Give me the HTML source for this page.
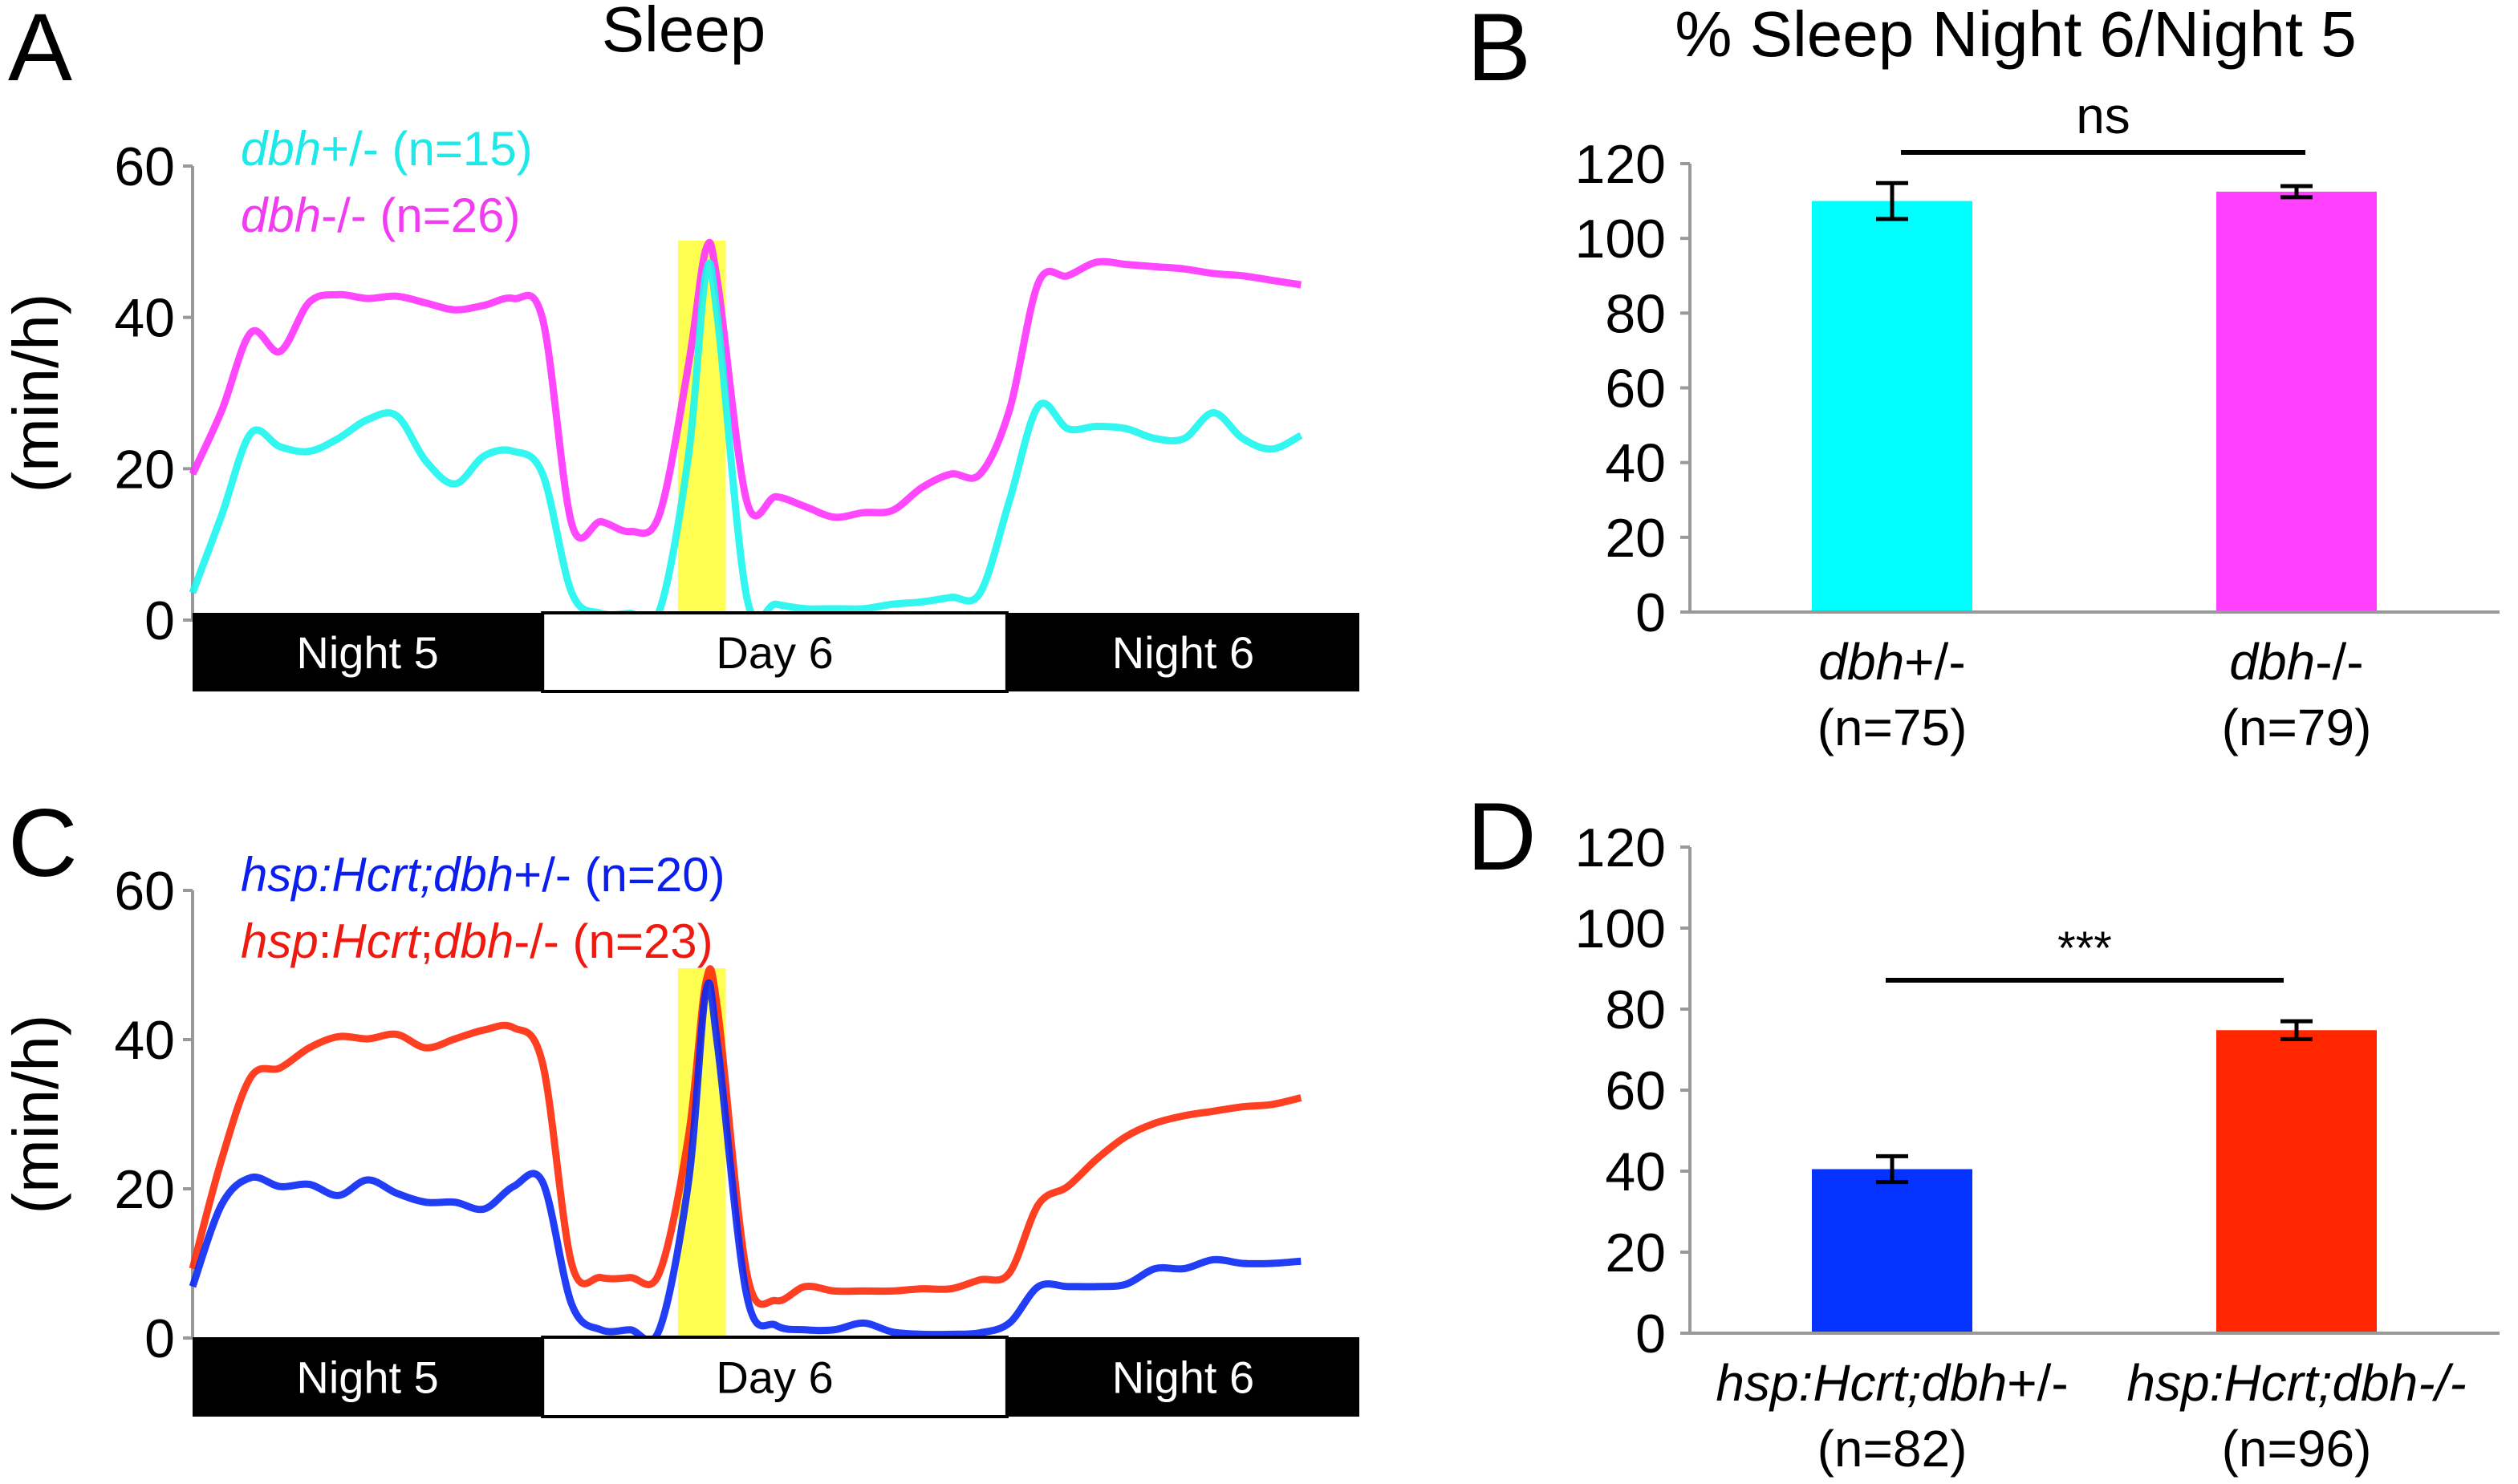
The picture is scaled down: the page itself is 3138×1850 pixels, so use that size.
<!DOCTYPE html>
<html><head><meta charset="utf-8"><style>
html,body{margin:0;padding:0;background:#fff;}
svg{display:block;font-family:"Liberation Sans Narrow","Liberation Sans",sans-serif;}
</style></head><body>
<svg id="fig" width="3138" height="1850" viewBox="0 0 3138 1850">
  <text x="10" y="100" font-size="120">A</text>
  <text x="1828" y="100" font-size="120">B</text>
  <text x="10" y="1092" font-size="120">C</text>
  <text x="1828" y="1084" font-size="120">D</text>
  <text x="852" y="64" font-size="80" text-anchor="middle">Sleep</text>
  <text x="2512" y="70" font-size="80" text-anchor="middle">% Sleep Night 6/Night 5</text>
  <g id="gA"></g>
  <g id="gC"></g>
  <g id="gB"></g>
  <g id="gD"></g>
</svg>
<script>
// ---- time-course data (time units 0..100 across light/dark bar) ----
const times = [0,2.5,5,7.5,10,12.5,15,17.5,20,22.5,25,27.5,30,32.5,35,37.5,40,42.5,44,45,47.5,50,52.5,55,57.5,60,62.5,65,67.5,70,72.5,75,77.5,80,82.5,85,87.5,90,92.5,95];
const dbhHet = [3.6,13.9,24.7,22.9,22.3,24,26.5,27,21,18,21.7,22.3,19.3,3.6,0.9,0.9,1.2,21.7,45.8,39.8,3,2.1,1.5,1.5,1.5,2.1,2.4,3,3.6,15.7,28.3,25.3,25.6,25.3,24,24,27.4,24,22.6,24.4];
const dbhMut = [19.3,27.7,38,35.5,42,43,42.5,42.8,41.9,41,41.6,42.5,39.8,12.7,13,11.7,13.9,33.7,49,44.6,15.7,16.3,15,13.6,14.2,14.5,17.5,19.3,19.3,27.7,44.6,45.5,47.3,47,46.7,46.4,45.8,45.5,44.9,44.3];
const hcrtHet = [6.9,17.9,21.5,20.3,20.6,19.1,21.2,19.4,18.2,18.2,17.3,20.3,20.9,4.5,1.1,1.1,1.1,20.9,46.5,39.2,5.7,1.7,1.1,1.1,2,0.8,0.5,0.5,0.7,2,6.9,6.9,6.9,7.2,9.3,9.3,10.5,10,10,10.3];
const hcrtMut = [9.3,24,35,36.2,38.9,40.4,40.1,40.7,38.9,40.1,41.3,41.6,36.8,9.9,8.1,8.1,8.7,27,47.7,44,8.7,5,6.9,6.3,6.3,6.3,6.6,6.6,7.8,8.7,17.9,20.3,24,27,28.8,29.8,30.4,31,31.3,32.2];
const lineTicks = [0,20,40,60];
// ---- bar data ----
const barTicks = [0,20,40,60,80,100,120];
const bValues = [110,112.5];
const bErrors = [4.8,1.5];
const dValues = [40.5,74.8];
const dErrors = [3.2,2.2];

const NS="http://www.w3.org/2000/svg";
function mk(parent,tag,attrs,text){const e=document.createElementNS(NS,tag);for(const k in attrs)e.setAttribute(k,attrs[k]);if(text!==undefined)e.textContent=text;parent.appendChild(e);return e;}
function smoothPath(pts){let d=`M${pts[0][0]},${pts[0][1]}`;for(let i=0;i<pts.length-1;i++){const p0=pts[Math.max(0,i-1)],p1=pts[i],p2=pts[i+1],p3=pts[Math.min(pts.length-1,i+2)];const c1=[p1[0]+(p2[0]-p0[0])/6,p1[1]+(p2[1]-p0[1])/6],c2=[p2[0]-(p3[0]-p1[0])/6,p2[1]-(p3[1]-p1[1])/6];d+=` C${c1[0]},${c1[1]} ${c2[0]},${c2[1]} ${p2[0]},${p2[1]}`;}return d;}

function lineChart(g,y0,y60,barTop,barBot,series,legends,legendY,hlTop){
  const x0=240,x1=1694;
  const X=t=>x0+(x1-x0)*t/100, Y=v=>y0-(y0-y60)*v/60;
  let ax=mk(g,'line',{x1:x0,y1:y60,x2:x0,y2:y0,stroke:'#999','stroke-width':4});
  
  lineTicks.forEach(v=>{
    let tk=mk(g,'line',{x1:x0-12,y1:Y(v),x2:x0,y2:Y(v),stroke:'#999','stroke-width':4});
    
    let tl=mk(g,'text',{x:x0-22,y:Y(v)+24,'font-size':68,'text-anchor':'end'},String(v));
    
  });
  let yt=mk(g,'text',{x:0,y:0,'font-size':80,'text-anchor':'middle',transform:`translate(72,${(y0+y60)/2}) rotate(-90)`},'(min/h)');
  
  let hl=mk(g,'rect',{x:X(41.6),y:hlTop,width:X(45.7)-X(41.6),height:barTop-hlTop,fill:'#ffff33','fill-opacity':0.85});
  
  series.forEach(s=>{
    const pts=times.map((t,i)=>[X(t),Y(s.v[i])]);
    let p=mk(g,'path',{d:smoothPath(pts),fill:'none',stroke:s.c,'stroke-width':9,'stroke-linejoin':'round','stroke-opacity':0.9});
    
  });
  const segs=[[0,30,'#000','#fff','Night 5'],[30,69.8,'#fff','#000','Day 6'],[69.8,100,'#000','#fff','Night 6']];
  segs.forEach((s,i)=>{
    let r=mk(g,'rect',{x:X(s[0]),y:barTop,width:X(s[1])-X(s[0]),height:barBot-barTop,fill:s[2],stroke:'#000','stroke-width':i==1?4:0});
    
    let t=mk(g,'text',{x:(X(s[0])+X(s[1]))/2,y:(barTop+barBot)/2+20,'font-size':56,'text-anchor':'middle',fill:s[3]},s[4]);
    
  });
  legends.forEach((L,i)=>{
    let t=mk(g,'text',{x:300,y:legendY+i*83,'font-size':60,fill:L.c});
    
    L.parts.forEach(p=>{mk(t,'tspan',p[1]?{'font-style':'italic'}:{},p[0]);});
  });
}

function barChart(g,y0,y120,vals,errs,colors,labels,sig,sigY){
  const ax0=2106,ax1=3115,centers=[2358,2862],bw=200;
  const Y=v=>y0-(y0-y120)*v/120;
  let ya=mk(g,'line',{x1:ax0,y1:y120,x2:ax0,y2:y0,stroke:'#999','stroke-width':4});
  
  let xa=mk(g,'line',{x1:ax0-12,y1:y0,x2:ax1,y2:y0,stroke:'#999','stroke-width':4});
  
  barTicks.forEach(v=>{
    let tk=mk(g,'line',{x1:ax0-12,y1:Y(v),x2:ax0,y2:Y(v),stroke:'#999','stroke-width':4});
    
    let tl=mk(g,'text',{x:ax0-30,y:Y(v)+24,'font-size':68,'text-anchor':'end'},String(v));
    
  });
  vals.forEach((v,i)=>{
    let r=mk(g,'rect',{x:centers[i]-bw/2,y:Y(v),width:bw,height:y0-Y(v)-2,fill:colors[i]});
    
    const e=errs[i];
    let eb=mk(g,'path',{d:`M${centers[i]},${Y(v+e)}V${Y(v-e)}M${centers[i]-20},${Y(v+e)}H${centers[i]+20}M${centers[i]-20},${Y(v-e)}H${centers[i]+20}`,stroke:'#000','stroke-width':5,fill:'none'});
    
    let l1=mk(g,'text',{x:centers[i],y:y0+84,'font-size':64,'text-anchor':'middle'});
    
    labels[i].forEach(p=>{mk(l1,'tspan',p[1]?{'font-style':'italic'}:{},p[0]);});
    let l2=mk(g,'text',{x:centers[i],y:y0+166,'font-size':64,'text-anchor':'middle'},i==0?labels.n[0]:labels.n[1]);
    
  });
  let sl=mk(g,'line',{x1:sig.x1,y1:sigY,x2:sig.x2,y2:sigY,stroke:'#000','stroke-width':6});
  
  let st=mk(g,'text',{x:(sig.x1+sig.x2)/2,y:sigY-sig.dy,'font-size':sig.fs,'text-anchor':'middle'},sig.text);
  
}

lineChart(document.getElementById('gA'),773,207,764,862,
  [{v:dbhMut,c:'#ff33ff',name:'line-dbh-mutant'},{v:dbhHet,c:'#1cf5ee',name:'line-dbh-het'}],
  [{c:'#1ee8e8',parts:[['dbh',1],['+/- (n=15)',0]]},{c:'#f23cf2',parts:[['dbh',1],['-/- (n=26)',0]]}],
  206,300);
lineChart(document.getElementById('gC'),1668,1110,1667,1766,
  [{v:hcrtMut,c:'#ff2a0a',name:'line-hcrt-dbh-mutant'},{v:hcrtHet,c:'#0a28f5',name:'line-hcrt-dbh-het'}],
  [{c:'#0a1ef0',parts:[['hsp:Hcrt;dbh',1],['+/- (n=20)',0]]},{c:'#ee1a10',parts:[['hsp',1],[':',0],['Hcrt',1],[';',0],['dbh',1],['-/- (n=23)',0]]}],
  1111,1207);
const labB=[[['dbh',1],['+/-',0]],[['dbh',1],['-/-',0]]];labB.n=['(n=75)','(n=79)'];
barChart(document.getElementById('gB'),763,204,bValues,bErrors,['#00ffff','#ff40ff'],labB,{x1:2369,x2:2873,text:'ns',dy:24,fs:64},190);
const labD=[[['hsp:Hcrt;dbh',1],['+/-',0]],[['hsp:Hcrt;dbh-/-',1]]];labD.n=['(n=82)','(n=96)'];
barChart(document.getElementById('gD'),1662,1056,dValues,dErrors,['#0433ff','#ff2600'],labD,{x1:2350,x2:2846,text:'***',dy:20,fs:58},1222);
</script>
</body></html>
